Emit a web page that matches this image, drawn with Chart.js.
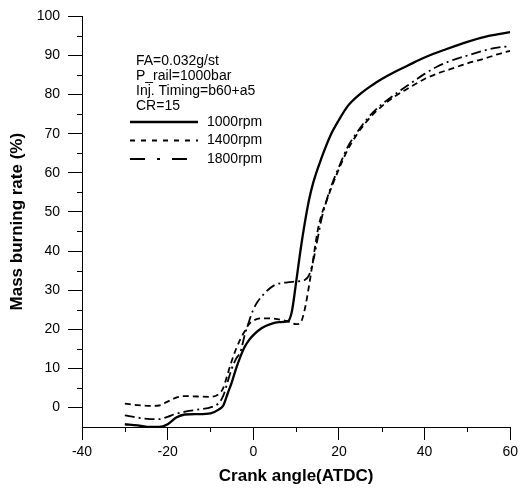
<!DOCTYPE html>
<html>
<head>
<meta charset="utf-8">
<script src="https://cdn.jsdelivr.net/npm/chart.js@4"></script>
<style>
  html, body { margin: 0; padding: 0; background: #fff; }
  canvas { display: block; }
</style>
</head>
<body>
<canvas id="chart" width="522" height="492"></canvas>
<script>
// crank angle (deg ATDC) and mass burning rate (%)
const x1000 = [-30, -27, -24, -22, -20, -18, -16, -13, -10, -8, -7, -6, -5, -4, -3, -2, -1, 0, 2, 4, 6, 8, 9, 10, 11, 12, 13, 14, 16, 18, 20, 22, 25, 28, 30, 33, 36, 40, 45, 50, 55, 60];
const y1000 = [-4.3, -4.6, -5.0, -5.0, -4.3, -2.6, -1.8, -1.7, -1.5, -0.5, 0.5, 3.5, 6.5, 10, 13, 15.5, 17.2, 18.5, 20.3, 21.3, 21.8, 22, 24.5, 32, 40, 47, 53, 57.5, 64, 69.5, 73.5, 77, 80.2, 82.6, 84, 85.8, 87.4, 89.5, 91.6, 93.5, 95, 96];

const x1400 = [-30, -27, -24, -22, -20, -18, -16, -13, -10, -8, -7, -6, -5, -4, -3, -2, -1, 0, 2, 4, 6, 8, 10, 11, 12, 13, 14, 15, 16, 17, 18, 20, 22, 24, 26, 28, 30, 33, 36, 40, 43, 46, 50, 54, 57, 60];
const y1400 = [1.0, 0.6, 0.4, 0.5, 1.5, 2.5, 2.9, 2.8, 2.7, 3.5, 5, 8.5, 12, 15, 17.5, 19.5, 21.3, 22.2, 22.8, 22.8, 22.5, 22, 21.3, 21.6, 25, 31, 38, 45, 49.5, 52.5, 55.5, 61, 65.8, 69.5, 72.5, 75, 77, 79.5, 81.5, 84, 85.4, 86.5, 88, 89.2, 90.3, 91.2];

const x1800 = [-30, -27, -24, -22, -20, -18, -15, -12, -10, -8, -7, -6, -5, -4, -3, -2, -1, 0, 1, 3, 5, 8, 10, 12, 13, 14, 15, 16, 17, 18, 20, 22, 24, 26, 28, 30, 33, 36, 40, 43, 46, 50, 54, 57, 60];
const y1800 = [-2, -2.6, -3, -3, -2.4, -1.6, -0.9, -0.4, 0, 1.2, 3, 6.5, 10, 12.5, 14.2, 18.5, 22, 25, 27, 29.6, 31.3, 32, 32.2, 32.6, 33.8, 37.5, 43, 48.5, 52.5, 56, 61.5, 66.5, 70, 73, 75.5, 77.5, 80, 82.3, 85.3, 87.2, 88.6, 90, 91.3, 92, 92.4];

const seriesNames = ['1000rpm', '1400rpm', '1800rpm'];
const xTickValues = [-40, -20, 0, 20, 40, 60];
const xMinorValues = [-30, -10, 10, 30, 50];
const yTickValues = [0, 10, 20, 30, 40, 50, 60, 70, 80, 90, 100];
const yMinorValues = [5, 15, 25, 35, 45, 55, 65, 75, 85, 95];
const noteLines = ['FA=0.032g/st', 'P_rail=1000bar', 'Inj. Timing=b60+a5', 'CR=15'];

const toPoints = (xs, ys) => xs.map((x, i) => ({ x: x, y: ys[i] }));

// minor ticks and the note/legend block inside the plot
const extras = {
  id: 'extras',
  afterDraw(chart) {
    const ctx = chart.ctx;
    const xs = chart.scales.x;
    const ys = chart.scales.y;
    ctx.save();
    ctx.strokeStyle = '#000';
    ctx.lineWidth = 1;
    ctx.beginPath();
    yMinorValues.forEach((v) => {
      const py = Math.round(ys.getPixelForValue(v)) + 0.5;
      ctx.moveTo(ys.right - 5, py);
      ctx.lineTo(ys.right, py);
    });
    xMinorValues.forEach((v) => {
      const px = Math.round(xs.getPixelForValue(v)) + 0.5;
      ctx.moveTo(px, xs.top);
      ctx.lineTo(px, xs.top + 5);
    });
    ctx.stroke();

    ctx.fillStyle = '#000';
    ctx.font = '14px "Liberation Sans", Arial, sans-serif';
    ctx.textBaseline = 'middle';
    ctx.textAlign = 'left';
    noteLines.forEach((t, i) => {
      ctx.fillText(t, 136, 61 + i * 15);
    });
    const legendDash = [[], [5, 6], [15, 12, 3, 12]];
    chart.data.datasets.forEach((ds, i) => {
      const y = 122 + i * 18.5;
      ctx.save();
      ctx.setLineDash(legendDash[i]);
      ctx.lineWidth = ds.borderWidth;
      ctx.strokeStyle = ds.borderColor;
      ctx.beginPath();
      ctx.moveTo(130, y);
      ctx.lineTo(198, y);
      ctx.stroke();
      ctx.restore();
      ctx.fillText(ds.label, 207, y);
    });
    ctx.restore();
  }
};

const tickFont = { family: '"Liberation Sans", Arial, sans-serif', size: 14 };
const titleFont = { family: '"Liberation Sans", Arial, sans-serif', size: 17, weight: 'bold' };

new Chart(document.getElementById('chart'), {
  type: 'line',
  data: {
    datasets: [
      { label: seriesNames[0], data: toPoints(x1000, y1000), borderColor: '#000', borderWidth: 2.3, borderDash: [] },
      { label: seriesNames[1], data: toPoints(x1400, y1400), borderColor: '#000', borderWidth: 1.8, borderDash: [6, 4] },
      { label: seriesNames[2], data: toPoints(x1800, y1800), borderColor: '#000', borderWidth: 1.8, borderDash: [10, 4, 2, 4] },
    ],
  },
  options: {
    responsive: false,
    animation: false,
    devicePixelRatio: 1,
    layout: { padding: { left: 0, right: 9, top: 12, bottom: 0 } },
    elements: {
      point: { radius: 0 },
      line: { cubicInterpolationMode: 'monotone', fill: false },
    },
    plugins: { legend: { display: false }, tooltip: { enabled: false } },
    scales: {
      x: {
        type: 'linear',
        min: -40,
        max: 60,
        afterBuildTicks: (scale) => { scale.ticks = xTickValues.map((v) => ({ value: v })); },
        afterFit: (scale) => { scale.height = 65; },
        grid: { drawOnChartArea: false, drawTicks: true, tickLength: 13, color: '#000' },
        border: { display: true, color: '#000', width: 1 },
        ticks: { color: '#000', font: tickFont, padding: 4, maxRotation: 0 },
        title: { display: true, text: 'Crank angle(ATDC)', color: '#000', font: titleFont, padding: { top: 0, bottom: 5 } },
      },
      y: {
        type: 'linear',
        min: -5,
        max: 100,
        afterBuildTicks: (scale) => { scale.ticks = yTickValues.map((v) => ({ value: v })); },
        afterFit: (scale) => { scale.width = 82; },
        grid: { drawOnChartArea: false, drawTicks: true, tickLength: 14, color: '#000' },
        border: { display: true, color: '#000', width: 1 },
        ticks: { color: '#000', font: tickFont, padding: 8 },
        title: { display: true, text: 'Mass burning rate (%)', color: '#000', font: titleFont, padding: { top: 7, bottom: 0 } },
      },
    },
  },
  plugins: [extras],
});
</script>
</body>
</html>
